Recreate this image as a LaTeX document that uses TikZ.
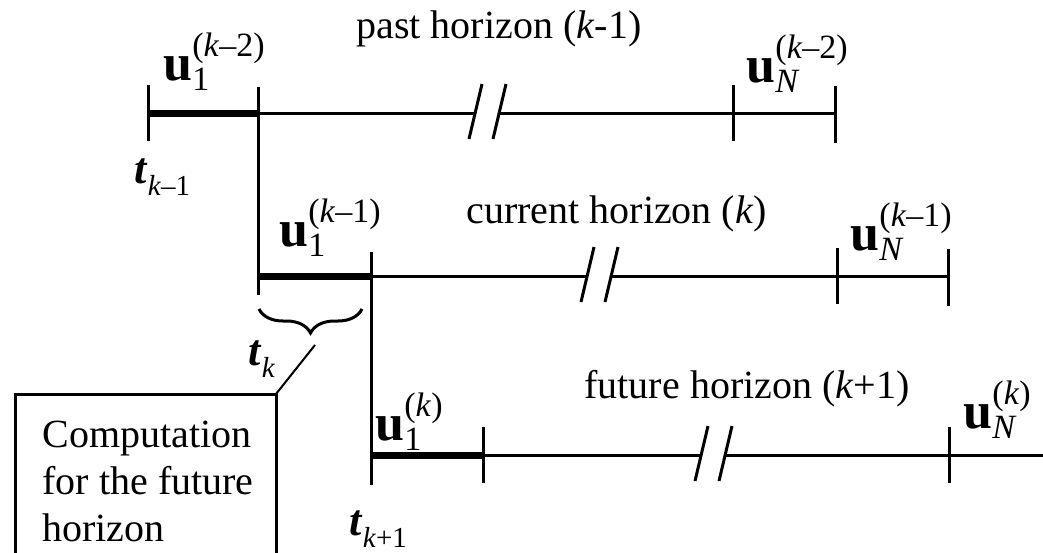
\documentclass[tikz,border=0pt]{standalone}
\usepackage{fontspec}
\setmainfont{Liberation Serif}
\usetikzlibrary{decorations.pathreplacing}

% small script text, control inputs and time instants
\newcommand{\scrtext}[2]{{\fontsize{#1}{#1}\selectfont #2}}
\newcommand{\ctrlin}[2]{\textbf{u}\rlap{\raisebox{24pt}{\scrtext{34}{(#2)}}}\raisebox{-10pt}{\scrtext{34}{#1}}}
\newcommand{\tinst}[1]{\textbf{\textit{t}}\raisebox{-12pt}{\scrtext{29}{#1}}}

\begin{document}
\begin{tikzpicture}[x=1pt, y=-1pt, line width=3pt,
    thickline/.style={line width=7pt},
    horizontext/.style={font=\fontsize{40}{47}\selectfont, anchor=base west, inner sep=0pt},
    symtext/.style={font=\fontsize{52}{52}\selectfont, anchor=base west, inner sep=0pt},
    timetext/.style={font=\fontsize{44}{44}\selectfont, anchor=base west, inner sep=0pt},
    notetext/.style={anchor=north west, align=left, inner sep=0pt,
      font=\fontsize{40}{47}\selectfont}]

    \useasboundingbox (0,0) rectangle (1043,552);

    \def\TickLen{28}

    % Horizons: row/start/y/next step/break/last step/end
    \foreach \r/\s/\y/\n/\b/\a/\e in {1/148/113/258/488/733/835,
                                       2/258/276/371/600/837/948,
                                       3/371/455/483/714/949/1043} {
      \coordinate (s\r) at (\s,\y);
      \coordinate (n\r) at (\n,\y);
      \coordinate (bl\r) at (\b-12,\y);
      \coordinate (br\r) at (\b+12,\y);
      \coordinate (a\r) at (\a,\y);
      \coordinate (e\r) at (\e,\y);

      % first control interval (thick), then the rest of the horizon
      \draw[thickline] (s\r) -- (n\r);
      \draw (n\r) -- (bl\r);
      \draw (br\r) -- (e\r);

      % break marks
      \draw (bl\r) ++(6,-29) -- ++(-13,55);
      \draw (br\r) ++(6,-29) -- ++(-13,55);

      % tick of the last interval and the end of the horizon
      \draw (a\r) ++(0,-\TickLen) -- ++(0,2*\TickLen);
      \ifnum\r<3
        \draw (e\r) ++(0,-27) -- ++(0,57);
      \fi
    }

    % Ticks linking the horizons
    \draw (s1) ++(0,-\TickLen) -- ++(0,2*\TickLen);
    \draw ([yshift=26pt]n1) -- ([yshift=-19pt]s2);
    \draw ([yshift=24pt]n2) -- ([yshift=-30pt]s3);
    \draw (n3) ++(0,-\TickLen) -- ++(0,2*\TickLen);

    % Horizon names
    \node[horizontext] (past) at (355,38) {past horizon (\textit{k}-1)};
    \node[horizontext] (current) at (465,223) {current horizon (\textit{k})};
    \node[horizontext] (future) at (583,398) {future horizon (\textit{k}+1)};

    % Control inputs
    \node[symtext] (u1a) at (162,80) {\ctrlin{1}{\textit{k}–2}};
    \node[symtext] (uNa) at (745,82) {\ctrlin{\textit{N}}{\textit{k}–2}};
    \node[symtext] (u1b) at (278,246) {\ctrlin{1}{\textit{k}–1}};
    \node[symtext] (uNb) at (849,250) {\ctrlin{\textit{N}}{\textit{k}–1}};
    \node[symtext] (u1c) at (374,440) {\ctrlin{1}{\textit{k}}};
    \node[symtext] (uNc) at (962,428) {\ctrlin{\textit{N}}{\textit{k}}};

    % Time instants
    \node[timetext] (ta) at (133,183) {\tinst{\textit{k}–1}};
    \node[timetext] (tb) at (247,365) {\tinst{\textit{k}}};
    \node[timetext] (tc) at (348,535) {\tinst{\textit{k}+1}};

    % Computation time
    \draw[decorate, decoration={brace, mirror, amplitude=24pt}] (259,309) -- (362,309);
    \coordinate (tip) at (315,345);
    \node[minimum width=258pt, minimum height=158pt, inner sep=0pt, anchor=north west] (box) at (15,394) {};
    \draw (box.south west) -- (box.north west) -- (box.north east) -- (box.south east);
    \node[notetext] (note) at (41,420) {Computation\\for the future\\horizon};
    \draw[line width=2pt] (tip) -- (box.north east);
  \end{tikzpicture}
\end{document}
